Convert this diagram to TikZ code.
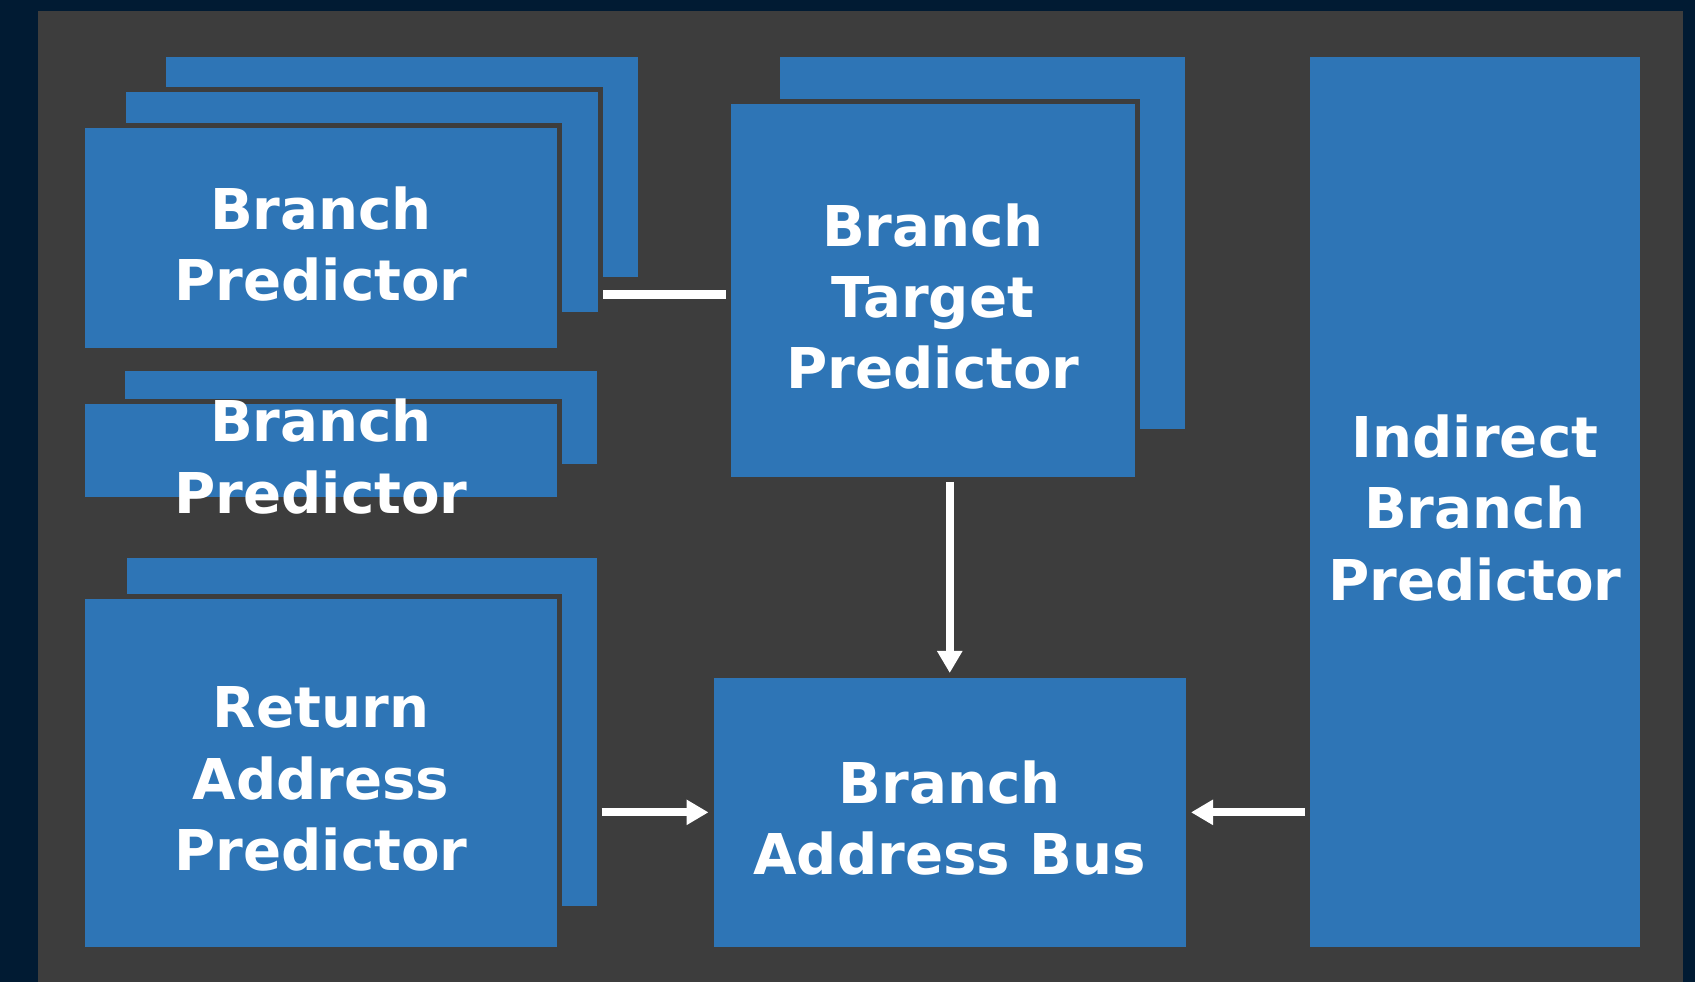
\documentclass[tikz,border=0pt]{standalone}
\usepackage{fontspec}
\setmainfont{DejaVu Sans}
\usetikzlibrary{arrows.meta}
\definecolor{navy}{HTML}{011B33}
\definecolor{panel}{HTML}{3D3D3D}
\definecolor{unitblue}{HTML}{2E75B6}
\tikzset{
  unit/.style={fill=unitblue, draw=panel, line width=0.05cm, inner sep=0pt},
  caption/.style={text=white, font=\bfseries\fontsize{16}{20.3}\selectfont, align=center, yshift=-0.06cm},
  wire/.style={draw=white, line width=0.083cm},
  flow/.style={wire, -{Triangle[width=0.24cm,length=0.22cm]}}
}
\begin{document}
\begin{tikzpicture}
                \fill[navy] (0,0) rectangle (16.95,9.82);
                \fill[panel] (0.38,0) rectangle (16.83,9.71);
                \useasboundingbox (0,0) rectangle (16.95,9.82);
                \node[unit, minimum width=4.77cm, minimum height=2.25cm] (bpback) at (4.02,8.15) {};
                \node[unit, minimum width=4.77cm, minimum height=2.25cm] (bpmid) at (3.62,7.80) {};
                \node[unit, minimum width=4.77cm, minimum height=2.25cm] (bp) at (3.21,7.44) {};
                \node[caption] (bptext) at (bp) {Branch\\Predictor};
                \node[unit, minimum width=4.77cm, minimum height=0.98cm] (bp2back) at (3.61,5.645) {};
                \node[unit, minimum width=4.77cm, minimum height=0.98cm] (bp2) at (3.21,5.315) {};
                \node[caption] (bp2text) at (bp2) {Branch\\Predictor};
                \node[unit, minimum width=4.75cm, minimum height=3.53cm] (rapback) at (3.615,2.50) {};
                \node[unit, minimum width=4.77cm, minimum height=3.53cm] (rap) at (3.21,2.09) {};
                \node[caption] (raptext) at (rap) {Return\\Address\\Predictor};
                \node[unit, minimum width=4.10cm, minimum height=3.77cm] (btpback) at (9.825,7.39) {};
                \node[unit, minimum width=4.09cm, minimum height=3.78cm] (btp) at (9.33,6.915) {};
                \node[caption] (btptext) at (btp) {Branch\\Target\\Predictor};
                \node[unit, minimum width=3.35cm, minimum height=8.95cm] (ibp) at (14.75,4.80) {};
                \node[caption] (ibptext) at (ibp) {Indirect\\Branch\\Predictor};
                \node[unit, minimum width=4.775cm, minimum height=2.737cm] (bus) at (9.4975,1.6965) {};
                \node[caption] (bustext) at (bus) {Branch\\Address Bus};
                \coordinate (btpin) at ([yshift=-0.04cm]btp.west);
                \draw[wire] (bpmid.east |- btpin) -- (btpin);
                \draw[flow] (bus.north |- btp.south) -- (bus.north);
                \draw[flow] (rapback.east |- bus.west) -- (bus.west);
                \draw[flow] (ibp.west |- bus.east) -- (bus.east);
            \end{tikzpicture}
\end{document}
